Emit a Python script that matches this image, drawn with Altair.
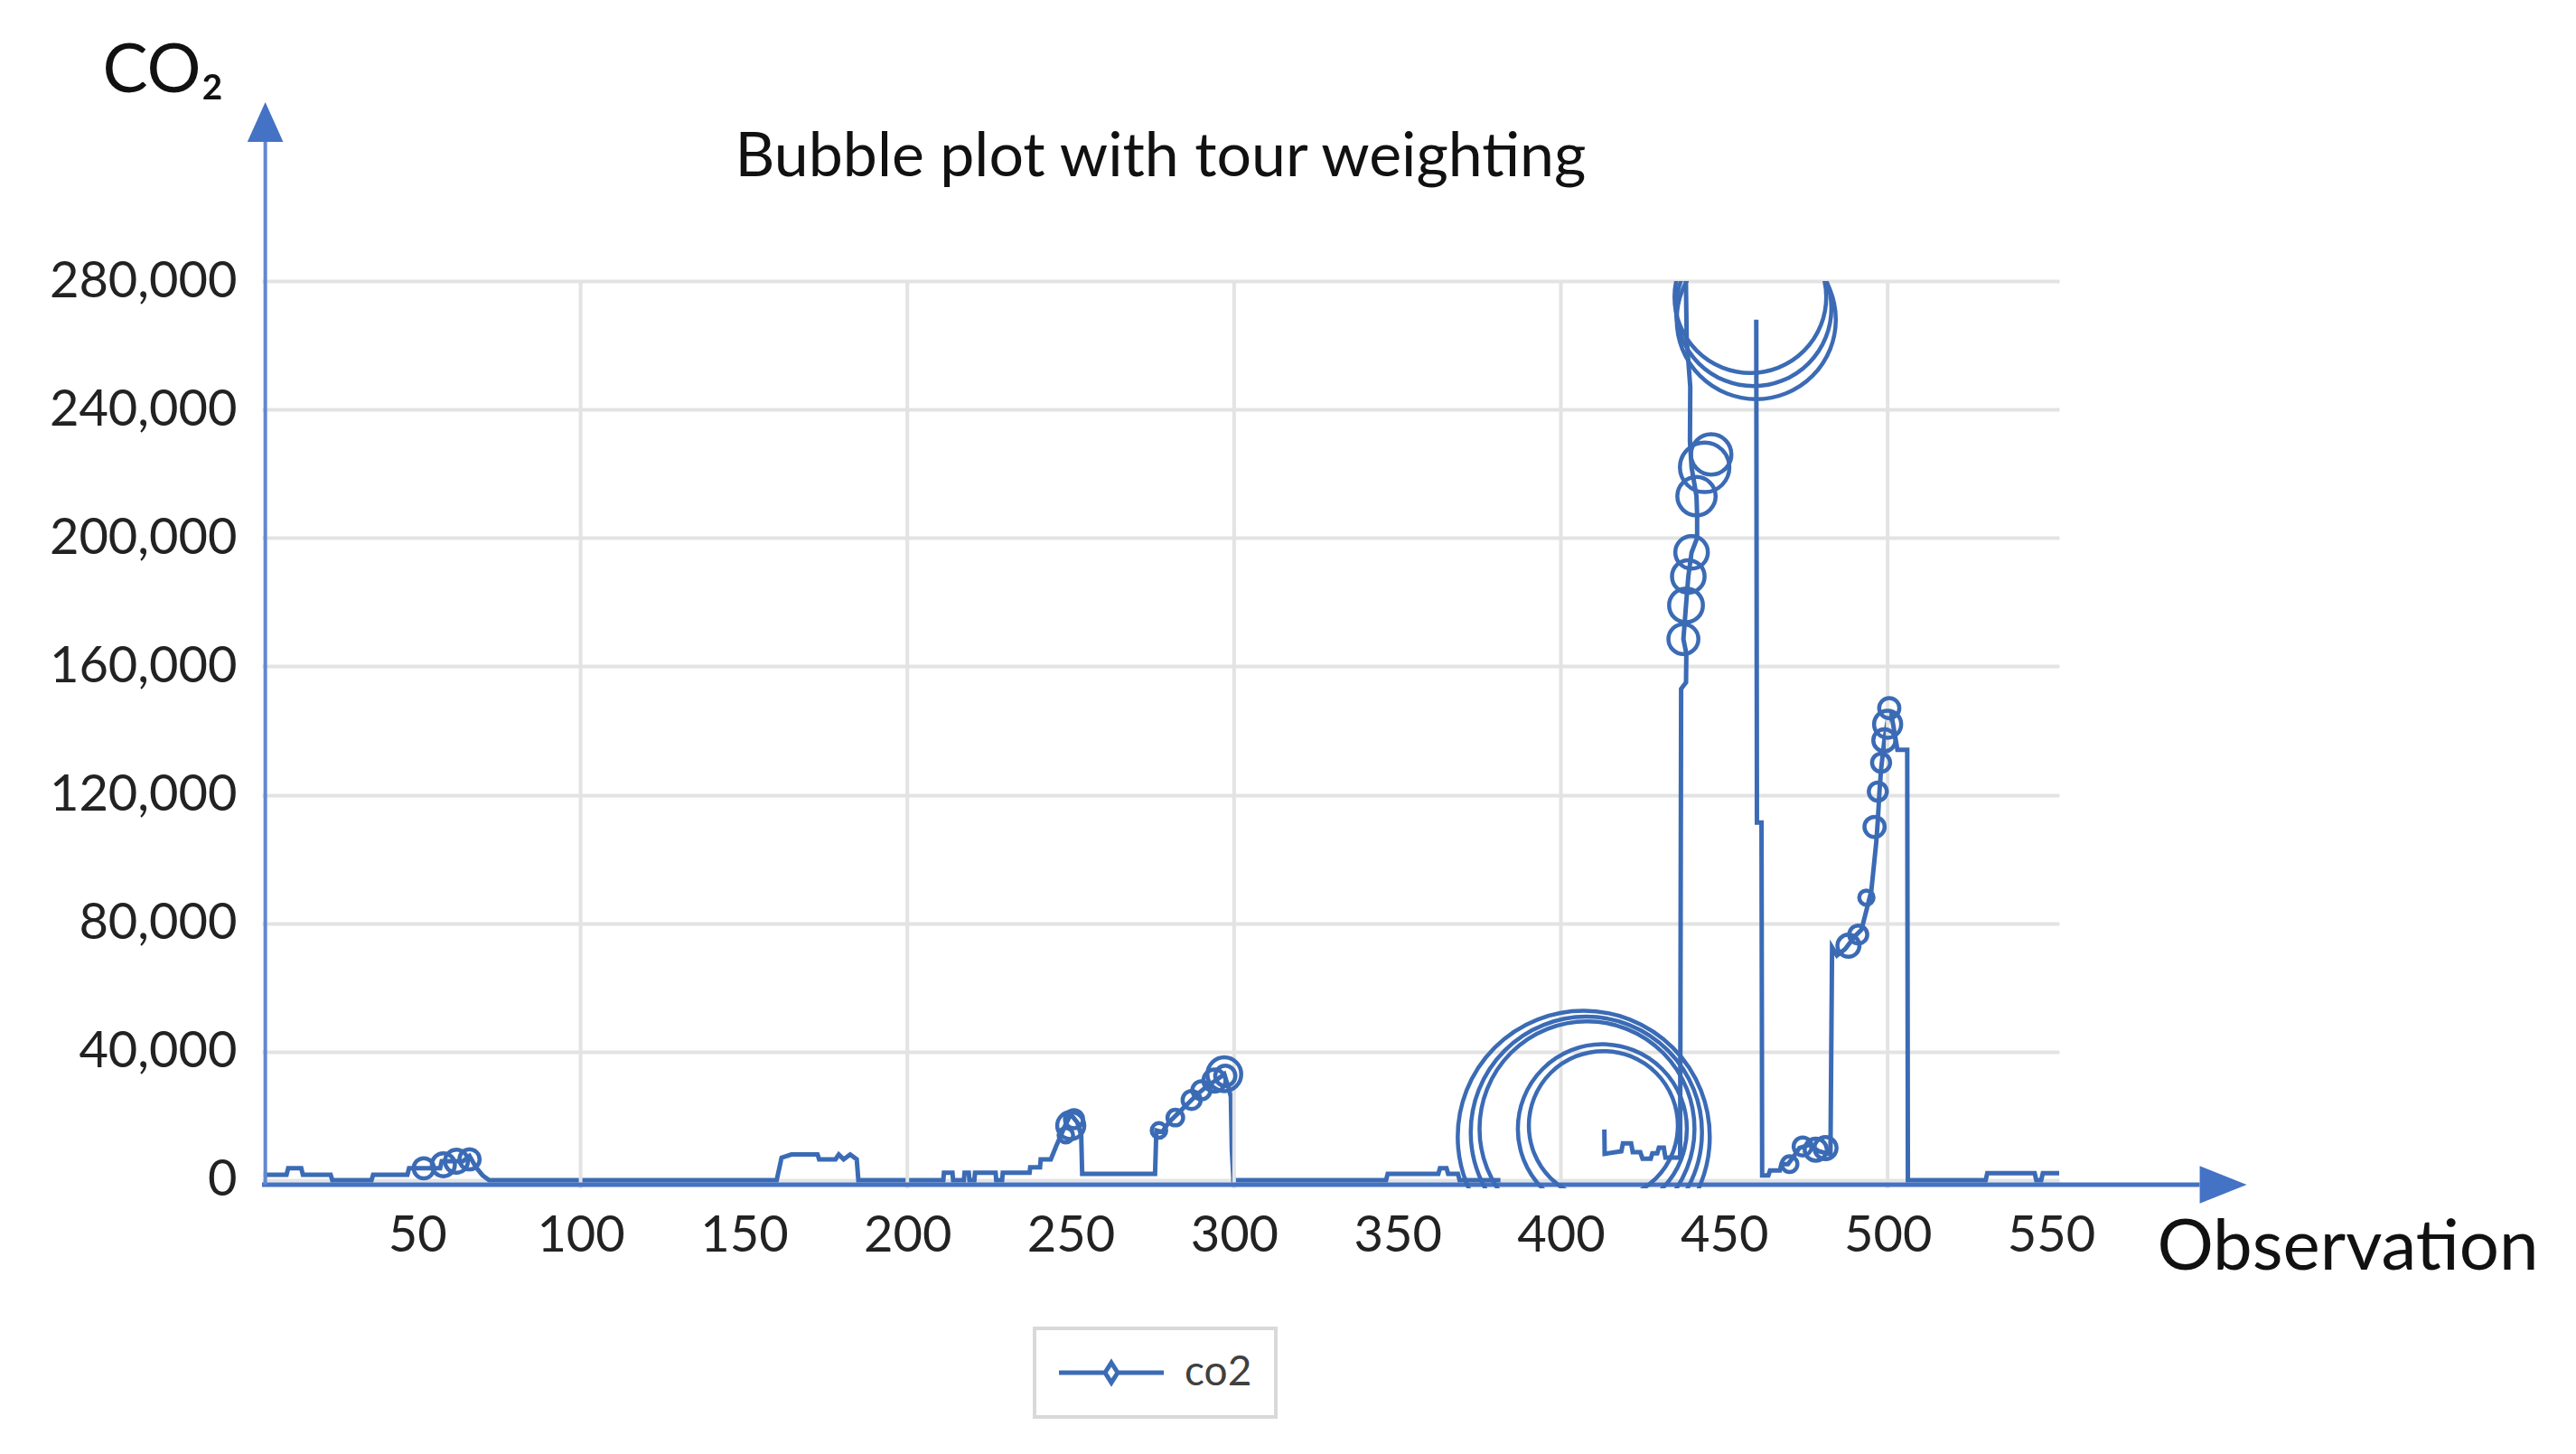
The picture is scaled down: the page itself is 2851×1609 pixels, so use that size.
import altair as alt
import pandas as pd

# ---------------- data ----------------
# line series (None = break in the drawn line)
line_obs = [3, 10, 10.5, 14.5, 15, 23.5, 24, 36, 36.5, 47, 47.5, 57, 57.5, 64, 66, 68, 70, 72,
            160, 161.5, 164.5, 172.5, 173, 178, 179, 180.5, 182.5, 184.5, 185,
            211, 211.2, 213.8, 214, 217.3, 217.5, 218.8, 219, 220.5, 220.7, 227, 227.2, 229, 229.2,
            237.4, 237.6, 240.6, 240.8, 243.9, 245.7, 247, 248.5, 250, 252, 253.2, 253.5,
            275.8, 276.2, 278, 280, 283, 286, 289, 292, 295, 297, 298.5, 299, 299.3, 299.8,
            346.5, 347, 362.5, 363, 365, 365.5, 368.5, 369, 381.5,
            None,
            413.3, 413.4, 418.5, 419, 421.5, 422, 424.3, 425, 427.5, 428, 429.5, 430, 431.5, 432,
            436.5, 436.8, 438.3, 438.4, 437.5, 438.3, 439, 440, 441.7, 441.7, 441.5, 440, 439.5,
            439.6, 438.5, 438,
            None,
            459.8, 460, 461.4, 461.6, 463.5, 464, 467, 467.5, 469.5, 471, 473, 476, 479, 482.5,
            483, 484.5, 487, 490, 492, 494, 495, 496.5, 497, 497.5, 498, 499, 500, 501, 502, 503,
            506, 506.2, 530, 530.5, 545, 545.5, 547, 547.5, 552.5]
line_co2 = [1700, 1700, 3700, 3700, 1700, 1700, 0, 0, 1700, 1700, 3700, 3700, 5900, 5900, 7500, 4000, 1500, 0,
            0, 7000, 8000, 8000, 6500, 6500, 8000, 6500, 8000, 6500, 0,
            0, 2300, 2300, 0, 0, 2300, 2300, 0, 0, 2300, 2300, 0, 0, 2300,
            2300, 4000, 4000, 6500, 6500, 11000, 14000, 17500, 20500, 18000, 14000, 2000,
            2000, 15500, 15000, 18000, 21000, 24000, 27000, 29500, 31500, 33000, 28000, 26000, 9500, 0,
            0, 2000, 2000, 3700, 3700, 2000, 2000, 0, 0,
            None,
            15800, 8200, 9000, 11500, 11500, 8700, 8700, 6700, 6700, 8400, 8400, 10100, 10100, 7000,
            7000, 153000, 155000, 164000, 168500, 179000, 188000, 195500, 200000, 207000, 213000,
            222000, 230000, 247000, 262000, 300000,
            None,
            268000, 111400, 111400, 1500, 1500, 3000, 3000, 5000, 5000, 7000, 10000, 11000, 9000, 8000,
            72500, 70000, 72000, 76000, 78000, 86000, 90000, 105000, 112000, 121000, 128000, 137000,
            143000, 146000, 140000, 134000, 134000, 0, 0, 2200, 2200, 0, 0, 2200, 2200]

# bubbles (tour weighting)
bubble_obs = [52, 58, 62, 66, 248.5, 250, 251, 277, 282, 287, 290, 294, 297, 297.3,
              407, 407.8, 408, 412.7, 413, 437.5, 438.3, 439, 440, 441.5, 444, 446,
              459.8, 459, 458, 470, 474, 478, 481, 488, 491, 493.5, 496, 497, 498, 499, 500, 500.5]
bubble_co2 = [3700, 4800, 5900, 6500, 14000, 17000, 19000, 15500, 19500, 25000, 28000, 31000, 33000, 32500,
              13500, 14900, 16000, 16000, 17000, 168500, 179000, 188000, 195500, 213000, 222000, 226000,
              268000, 271500, 275000, 5000, 10500, 9500, 10000, 73000, 76500, 88000, 110000, 121000,
              130000, 137000, 142000, 147000]
bubble_weight = [5, 6.5, 6.5, 5, 2.6, 9, 4, 2.6, 3, 4, 4, 6, 14, 5,
                 778, 655, 566, 350, 272, 11, 14, 13, 13, 18, 30, 20,
                 310, 296, 282, 3, 4, 6, 6, 6, 4, 2.5, 5, 4, 4, 6, 9, 5]

x_label_values = [50, 100, 150, 200, 250, 300, 350, 400, 450, 500, 550]
x_grid_values = [100, 200, 300, 400, 500]
y_tick_values = [0, 40000, 80000, 120000, 160000, 200000, 240000, 280000]
series_name = "co2"

# ---------------- build tables ----------------
rows, seg = [], 0
for i, (o, v) in enumerate(zip(line_obs, line_co2)):
    if o is None or v is None:
        seg += 1
        continue
    rows.append({"obs": o, "co2": v, "seg": seg, "i": i, "series": series_name})
line_df = pd.DataFrame(rows)
bub_df = pd.DataFrame({"obs": bubble_obs, "co2": bubble_co2, "w": bubble_weight})
grid_df = pd.DataFrame({"g": x_grid_values})
one = pd.DataFrame({"k": [0]})

BLUE = "#3b6bb5"
AXIS_BLUE = "#4472c4"
GRID = "#e3e3e3"
FONT = "Lato"

xs = alt.Scale(domain=[2.5, 552.5], nice=False, zero=False)
ys = alt.Scale(domain=[-2533, 280000], nice=False, zero=False)

x_axis = alt.Axis(values=x_label_values, grid=False, domain=False, ticks=False,
                  labelFontSize=56, labelFont=FONT, labelColor="#222222", labelPadding=25,
                  labelFlush=False, labelOverlap=False, labelLimit=0,
                  title="Observation", titleFontSize=78, titleFont=FONT, titleFontWeight="normal",
                  titleColor="#111111", titleX=2308, titleY=89, titleAlign="center",
                  titleBaseline="alphabetic", titleLimit=0)
y_axis = alt.Axis(values=y_tick_values, format=",d", grid=True, gridColor=GRID, gridWidth=4,
                  domain=False, ticks=False, labelFontSize=56, labelFont=FONT, labelColor="#222222",
                  labelPadding=28, labelOverlap=False, labelLimit=0,
                  title="CO₂", titleFontSize=75, titleFont=FONT, titleFontWeight="normal",
                  titleColor="#111111", titleAngle=0, titleX=-177, titleY=-210, titleAlign="left",
                  titleBaseline="alphabetic", titleLimit=0)

legend_path = "M-2.9,0H-0.35M0.35,0H2.9M0,-0.55L0.35,0L0,0.55L-0.35,0Z"
line = alt.Chart(line_df).mark_line(strokeWidth=5, clip=True).encode(
    x=alt.X("obs:Q", scale=xs, axis=x_axis, title="Observation"),
    y=alt.Y("co2:Q", scale=ys, axis=y_axis, title="CO₂"),
    detail="seg:N",
    order="i:Q",
    color=alt.Color("series:N", scale=alt.Scale(range=[BLUE]),
                    legend=alt.Legend(title=None, orient="none", legendX=855, legendY=1159,
                                      padding=26, strokeColor="#d9d9d9", fillColor="white",
                                      symbolType=legend_path, symbolSize=1600,
                                      symbolStrokeWidth=5, symbolFillColor="white",
                                      symbolStrokeColor=BLUE, symbolOffset=36, labelOffset=58,
                                      labelFontSize=46, labelFont=FONT, labelColor="#404040")))

vgrid = alt.Chart(grid_df).mark_rule(color=GRID, strokeWidth=4).encode(
    x=alt.X("g:Q", scale=xs, axis=x_axis, title="Observation"),
    y=alt.datum(-2533), y2=alt.datum(280000))

x_axis_line = alt.Chart(one).mark_rule(color=AXIS_BLUE, strokeWidth=5).encode(
    x=alt.datum(2.5), x2=alt.datum(595.5), y=alt.datum(-1400))
y_axis_line = alt.Chart(one).mark_rule(color="#5f88cf", strokeWidth=4).encode(
    x=alt.datum(3.5), y=alt.datum(-1400), y2=alt.datum(323500))

bubbles = alt.Chart(bub_df).mark_point(shape="circle", filled=False, strokeWidth=4.5,
                                       color=BLUE, opacity=1, clip=True).encode(
    x=alt.X("obs:Q", scale=xs, axis=x_axis, title="Observation"),
    y=alt.Y("co2:Q", scale=ys, axis=y_axis, title="CO₂"),
    size=alt.Size("w:Q", scale=alt.Scale(type="linear", domain=[0, 800], range=[0, 80000]),
                  legend=None))

arrow_up = alt.Chart(one).mark_point(shape="M0,-1L-0.9,1L0.9,1Z", filled=True, size=1936,
                                     color=AXIS_BLUE, opacity=1, strokeWidth=0).encode(
    x=alt.datum(3.5), y=alt.datum(329500))
arrow_right = alt.Chart(one).mark_point(shape="M1,0L-1,-0.8L-1,0.8Z", filled=True, size=2704,
                                        color=AXIS_BLUE, opacity=1, strokeWidth=0).encode(
    x=alt.datum(602.7), y=alt.datum(-1400))

chart = alt.layer(line, vgrid, x_axis_line, y_axis_line, bubbles, arrow_up, arrow_right).properties(
    width=1989, height=1004,
    title=alt.TitleParams("Bubble plot with tour weighting", fontSize=68, font=FONT,
                          fontWeight="normal", color="#111111", anchor="middle", frame="group",
                          baseline="alphabetic", offset=0, dy=222),
    padding={"left": 282, "top": 303, "right": 564, "bottom": 286},
    autosize=alt.AutoSizeParams(type="none"),
).configure_view(stroke=None).configure_legend(strokeWidth=4)

chart.save("out.html", embed_options={"renderer": "svg", "actions": False})
